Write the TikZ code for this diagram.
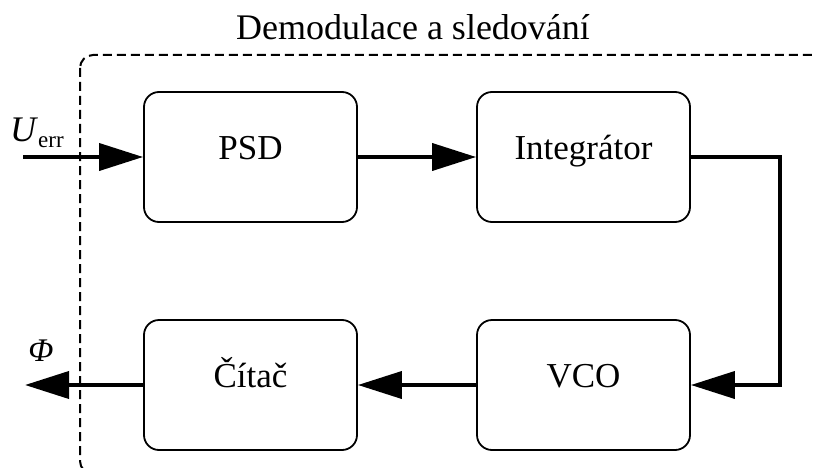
\documentclass[tikz,border=0pt]{standalone}
\usepackage{fontspec}
\setmainfont{Liberation Serif}
\usetikzlibrary{arrows.meta}
\begin{document}
\begin{tikzpicture}[x=1pt,y=-1pt,
  block/.style={draw, line width=1.8pt, rounded corners=15pt,
    minimum width=213pt, minimum height=130pt, inner sep=0pt,
    font=\fontsize{35}{42}\selectfont, text height=0.7em, text depth=0.2em},
  sig/.style={line width=3.8pt, -{Triangle[length=44pt,width=27pt]}},
  frame/.style={draw, line width=2pt, dash pattern=on 9pt off 5pt, rounded corners=13pt}]
  \useasboundingbox (0,0) rectangle (813,468);

  % dashed boundary of the demodulation block
  \begin{scope}
    \clip (0,0) rectangle (813,468);
    \path[frame] (80,55) rectangle (840,474);
  \end{scope}
  \node[font=\fontsize{36}{42}\selectfont, anchor=base] (title) at (413,40) {Demodulace a sledování};

  % blocks
  \node[block] (psd) at (250.5,157) {PSD};
  \node[block] (int) at (583.5,157) {Integrátor};
  \node[block] (cit) at (250.5,385) {Čítač};
  \node[block] (vco) at (583.5,385) {VCO};

  % input and output ends
  \coordinate (in) at (23,157);
  \coordinate (out) at (25,385);
  \coordinate (turn) at (780,157);
  \node[font=\fontsize{36}{42}\selectfont, anchor=base west, inner sep=0pt] (uerr) at (10,141) {\textit{U}\fontsize{23}{26}\selectfont\raisebox{-6pt}{err}};
  \node[font=\fontsize{33}{38}\selectfont, anchor=center, inner sep=0pt] (phi) at (41,351) {\textit{Φ}};

  % signal connectors
  \draw[sig] (in) -- (psd.west);
  \draw[sig] (psd.east) -- (int.west);
  \draw[sig] (int.east) -- (turn) |- (vco.east);
  \draw[sig] (vco.west) -- (cit.east);
  \draw[sig] (cit.west) -- (out);
\end{tikzpicture}
\end{document}
